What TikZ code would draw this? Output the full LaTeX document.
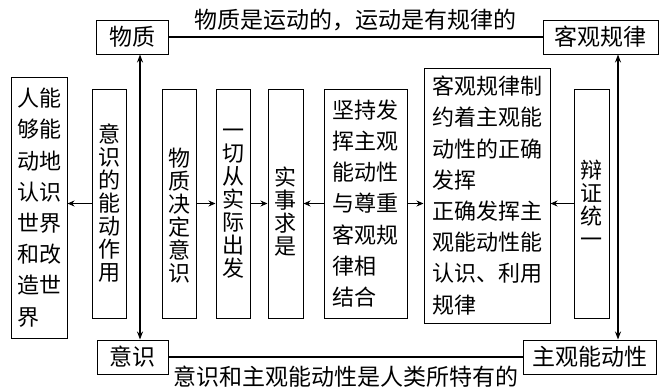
\documentclass[tikz,border=0pt]{standalone}
\usepackage{fontspec}
\newfontfamily\cjk{Noto Sans CJK SC}
\usetikzlibrary{arrows.meta}
\tikzset{
  kuang/.style={draw,line width=1pt,inner sep=0pt,font=\cjk\fontsize{22}{23}\selectfont},
  lie/.style={kuang,align=center,minimum width=34pt,minimum height=229pt},
  duan/.style={kuang,align=left,font=\cjk\fontsize{22}{31.2}\selectfont},
  ding/.style={kuang,font=\cjk\fontsize{23}{23}\selectfont,minimum height=34pt},
  shuo/.style={inner sep=0pt,font=\cjk\fontsize{23}{23}\selectfont},
  jian/.style={-{Stealth[length=7pt,width=6pt]},line width=1.4pt},
  shuang/.style={{Stealth[length=8pt,width=6pt]}-{Stealth[length=8pt,width=6pt]},line width=1.8pt},
}
\begin{document}
\begin{tikzpicture}[x=1pt,y=-1pt]
\useasboundingbox (0,0) rectangle (666,388);
\node[ding,minimum width=72pt] (wuzhi) at (132,37) {物质};
\node[ding,minimum width=115pt] (guilv) at (600.5,37) {客观规律};
\node[ding,minimum width=71pt] (yishi) at (132.5,357) {意识};
\node[ding,minimum width=133pt] (zhuguan) at (589.5,357) {主观能动性};
\draw[line width=1.8pt] (wuzhi) -- (guilv);
\draw[line width=1.8pt] (yishi) -- (zhuguan);
\node[shuo] (shang) at (355,20) {物质是运动的，运动是有规律的};
\node[shuo] (xia) at (346,377) {意识和主观能动性是人类所特有的};
\node[duan,minimum width=56pt,minimum height=261pt] (renneng) at (39,207.5)
  {人能\\够能\\动地\\认识\\世界\\和改\\造世\\界};
\node[lie] (nengdong) at (109,203.5) {意\\识\\的\\能\\动\\作\\用};
\node[lie] (jueding) at (179,203.5) {\raisebox{0pt}[43pt]{物}\\质\\决\\定\\意\\识};
\node[lie] (yiqie) at (233,203.5) {一\\切\\从\\实\\际\\出\\发};
\node[lie,minimum width=35pt] (shishi) at (285.5,203.5) {\raisebox{0pt}[35pt]{实}\\事\\求\\是};
\node[duan,minimum width=83pt,minimum height=229pt] (jianchi) at (365.5,203.5)
  {坚持发\\挥主观\\能动性\\与尊重\\客观规\\律相\\结合};
\node[duan,minimum width=126pt,minimum height=255pt] (zhiyue) at (487,195.5)
  {客观规律制\\约着主观能\\动性的正确\\发挥\\正确发挥主\\观能动性能\\认识、利用\\规律};
\node[lie,minimum width=35pt] (bianzheng) at (591.5,203.5) {辩\\证\\统\\一};
\draw[jian] (nengdong.west) -- (nengdong.west -| renneng.east);
\draw[jian] (jueding.east) -- (yiqie.west);
\draw[jian] (yiqie.east) -- (shishi.west);
\draw[jian] (jianchi.west) -- (shishi.east);
\draw[jian] (jianchi.east) -- (jianchi.east -| zhiyue.west);
\draw[jian] (bianzheng.west) -- (bianzheng.west -| zhiyue.east);
\draw[shuang] ([xshift=8pt]wuzhi.south) -- ([xshift=7.5pt]yishi.north);
\draw[shuang] ([xshift=17.5pt]guilv.south) -- ([xshift=28.5pt]zhuguan.north);
\end{tikzpicture}
\end{document}
